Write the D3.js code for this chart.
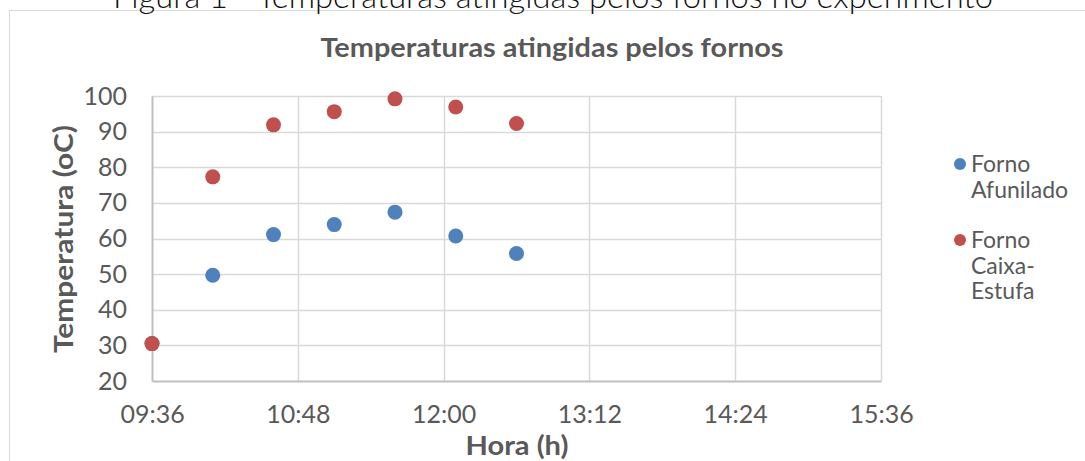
<!DOCTYPE html>
<html lang="pt">
<head>
  <meta charset="UTF-8" />
  <title>Temperaturas atingidas pelos fornos</title>
  <script src="https://d3js.org/d3.v7.min.js"></script>
  <style>
    html,body{margin:0;padding:0;background:#fff}
    svg{display:block;font-family:Lato,"Open Sans",sans-serif}
  </style>
</head>
<body>
  <div id="chart"></div>
  <script>
    // readings every 30 min
    const horas = ["09:36", "10:06", "10:36", "11:06", "11:36", "12:06", "12:36"];
    const afunilado = [30.5, 49.7, 61.1, 63.9, 67.4, 60.7, 55.8];
    const caixaEstufa = [30.5, 77.3, 91.9, 95.6, 99.2, 96.9, 92.3];
    const xTicks = ["09:36", "10:48", "12:00", "13:12", "14:24", "15:36"];
    const yTicks = [20, 30, 40, 50, 60, 70, 80, 90, 100];
    const BLUE = "#4F81BD", RED = "#C0504D", TXT = "#595959";

    const toMin = s => { const [h, m] = s.split(":"); return +h * 60 + +m; };

    const W = 1085, H = 461;
    const svg = d3.select("#chart").append("svg").attr("width", W).attr("height", H);

    // chart frame (runs off the page right/bottom)
    svg.append("rect").attr("x", 9.5).attr("y", 10.5).attr("width", 1100).attr("height", 480)
      .attr("fill", "#fff").attr("stroke", "#D9D9D9");

    // caption, mostly cut off at the top as in the source
    svg.append("text").attr("x", 553).attr("y", 8).attr("text-anchor", "middle")
      .attr("font-size", 31).attr("fill", "#111").attr("font-weight", 300)
      .attr("textLength", 880).attr("lengthAdjust", "spacingAndGlyphs")
      .text("Figura 1 - Temperaturas atingidas pelos fornos no experimento");

    const boldText = (sel, len) => sel.attr("text-anchor", "middle").attr("font-size", 26)
      .attr("font-weight", 700).attr("fill", TXT)
      .attr("textLength", len).attr("lengthAdjust", "spacingAndGlyphs");

    boldText(svg.append("text").attr("x", 552).attr("y", 57), 463)
      .text("Temperaturas atingidas pelos fornos");

    const x = d3.scaleLinear().domain([toMin(xTicks[0]), toMin(xTicks[xTicks.length - 1])]).range([152, 881]);
    const y = d3.scaleLinear().domain([20, 100]).range([381, 96]);

    // grid
    svg.append("g").selectAll("line").data(yTicks.slice(1)).enter().append("line")
      .attr("x1", 152).attr("x2", 881).attr("y1", d => Math.round(y(d)) + .5).attr("y2", d => Math.round(y(d)) + .5)
      .attr("stroke", "#D9D9D9").attr("stroke-width", 1.5);
    svg.append("g").selectAll("line").data(xTicks.slice(1)).enter().append("line")
      .attr("x1", d => Math.round(x(toMin(d))) + .5).attr("x2", d => Math.round(x(toMin(d))) + .5)
      .attr("y1", 96).attr("y2", 381)
      .attr("stroke", "#D9D9D9").attr("stroke-width", 1.5);

    // axes
    const yAxis = svg.append("g").attr("transform", "translate(152,0)")
      .call(d3.axisLeft(y).tickValues(yTicks).tickSize(0).tickPadding(25));
    const xAxis = svg.append("g").attr("transform", "translate(0,381)")
      .call(d3.axisBottom(x).tickValues(xTicks.map(toMin)).tickFormat((d, i) => xTicks[i]).tickSize(0).tickPadding(24));
    [yAxis, xAxis].forEach(a => {
      a.select(".domain").attr("stroke", "#BFBFBF").attr("stroke-width", 2);
      a.selectAll("text").attr("font-size", 25).attr("fill", TXT).attr("font-family", "Lato, sans-serif");
    });

    boldText(svg.append("text").attr("transform", "translate(73,239) rotate(-90)"), 228)
      .text("Temperatura (oC)");
    boldText(svg.append("text").attr("x", 517).attr("y", 455), 103)
      .text("Hora (h)");

    // points, Caixa-Estufa drawn on top
    [[afunilado, BLUE], [caixaEstufa, RED]].forEach(([vals, col]) => {
      svg.append("g").selectAll("circle").data(vals).enter().append("circle")
        .attr("cx", (d, i) => x(toMin(horas[i]))).attr("cy", d => y(d))
        .attr("r", 7.5).attr("fill", col);
    });

    // legend
    const legendLines = [["Forno", "Afunilado"], ["Forno", "Caixa-", "Estufa"]];
    const leg = svg.append("g").attr("transform", "translate(960,164)");
    legendLines.forEach((lines, k) => {
      const g = leg.append("g").attr("transform", `translate(0,${k * 76})`);
      g.append("circle").attr("r", 6).attr("fill", k ? RED : BLUE);
      g.append("text").attr("x", 11).attr("y", 8).attr("font-size", 23).attr("fill", TXT)
        .selectAll("tspan").data(lines).enter().append("tspan")
        .attr("x", 11).attr("dy", (d, i) => i ? 25.5 : 0).text(d => d);
    });
  </script>
</body>
</html>
